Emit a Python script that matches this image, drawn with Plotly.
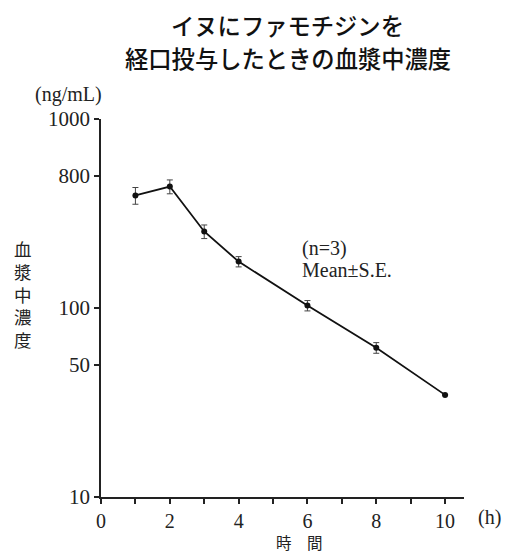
import plotly.graph_objects as go

# Data
hours = [1, 2, 3, 4, 6, 8, 10]
conc_mean = [394, 439, 254, 176, 103, 61.6, 34.7]
conc_se = [40, 37, 21, 11, 6.5, 4, None]

y_tickvals = [10, 50, 100, 500, 1000]
y_ticktext = ["10", "50", "100", "800", "1000"]
x_tickvals = [0, 2, 4, 6, 8, 10]

title_lines = ["イヌにファモチジンを", "経口投与したときの血漿中濃度"]
y_title = "血<br>漿<br>中<br>濃<br>度"
x_title = "時　間"

# page body has an 8px margin; work in screenshot pixels and shift
OFF = 8
W, H = 512 - OFF, 552 - OFF
L, R, T, B = 101.3 - OFF, 464.3 - OFF, 119.3 - OFF, 496.7 - OFF


def px(x):
    return (x - OFF - L) / (R - L)


def py(y):
    return (B - (y - OFF)) / (B - T)


serif = "Liberation Serif"
cjk = "Noto Sans CJK JP"
ink = "#222222"

fig = go.Figure()
fig.add_trace(go.Scatter(
    x=hours, y=conc_mean, mode="lines+markers",
    line=dict(color="#111111", width=1.8),
    marker=dict(color="#111111", size=6),
    error_y=dict(type="data", array=conc_se, visible=True,
                 thickness=1, width=3, color="#444444"),
    showlegend=False,
))

annotations = []
for i, t in enumerate(title_lines):
    annotations.append(dict(text=t, xref="paper", yref="paper",
                            x=px(288), y=py(25 + 33 * i),
                            xanchor="center", yanchor="middle", showarrow=False,
                            font=dict(family=cjk, size=23.3, color="#111111", weight=500)))
annotations.append(dict(text="(ng/mL)", xref="paper", yref="paper",
                        x=px(69), y=py(95), xanchor="center", yanchor="middle",
                        showarrow=False, font=dict(family=serif, size=20, color=ink)))
annotations.append(dict(text=y_title, xref="paper", yref="paper",
                        x=px(23), y=py(294.5), xanchor="center", yanchor="middle",
                        showarrow=False, font=dict(family=cjk, size=17.5, color=ink)))
annotations.append(dict(text="(h)", xref="paper", yref="paper",
                        x=px(490), y=py(517), xanchor="center", yanchor="middle",
                        showarrow=False, font=dict(family=serif, size=20, color=ink)))
annotations.append(dict(text=x_title, xref="paper", yref="paper",
                        x=px(300), y=py(541.5), xanchor="center", yanchor="middle",
                        showarrow=False, font=dict(family=cjk, size=15.5, color=ink)))
annotations.append(dict(text="(n=3)", xref="paper", yref="paper",
                        x=px(300), y=py(249), xanchor="left", yanchor="middle",
                        showarrow=False, font=dict(family=serif, size=20, color=ink)))
annotations.append(dict(text="Mean±S.E.", xref="paper", yref="paper",
                        x=px(300), y=py(270), xanchor="left", yanchor="middle",
                        showarrow=False, font=dict(family=serif, size=20, color=ink)))

fig.update_layout(
    width=W, height=H,
    margin=dict(l=L, r=W - R, t=T, b=H - B, pad=0),
    paper_bgcolor="white", plot_bgcolor="white",
    font=dict(family=serif, color=ink),
    annotations=annotations,
    xaxis=dict(range=[0, 10.55], tickvals=x_tickvals, showgrid=False, zeroline=False,
               showline=True, linecolor=ink, linewidth=1.5,
               ticks="outside", ticklen=5, tickwidth=1.5, tickcolor=ink,
               minor=dict(dtick=1, ticks="outside", ticklen=5, tickwidth=1.5, tickcolor=ink),
               tickfont=dict(family=serif, size=20, color=ink)),
    yaxis=dict(type="log", range=[1, 3], tickvals=y_tickvals, ticktext=y_ticktext,
               showgrid=False, zeroline=False, showline=True, linecolor=ink, linewidth=1.5,
               ticks="outside", ticklen=5, tickwidth=1.5, tickcolor=ink,
               tickfont=dict(family=serif, size=21, color=ink)),
)

fig.write_html("out.html")
